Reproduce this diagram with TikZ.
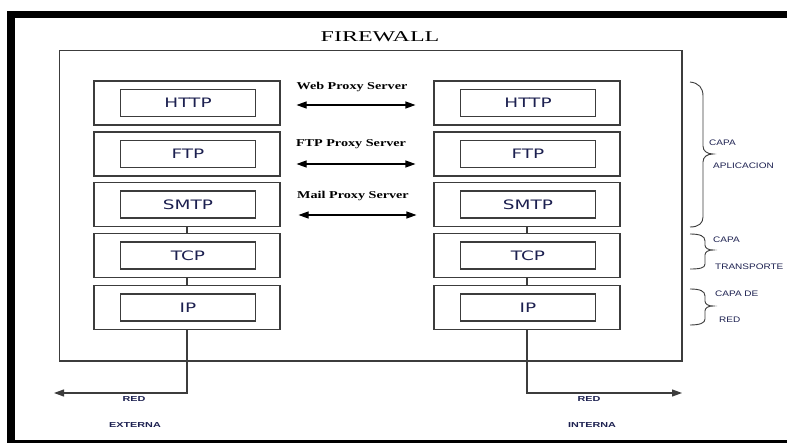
\documentclass[tikz,border=0pt]{standalone}
\usepackage{fontspec}
\usetikzlibrary{arrows.meta,calc}
\newfontfamily\titlefont[FakeStretch=1.6]{Liberation Serif}
\newfontfamily\proxyfont[FakeStretch=1.35]{Liberation Serif}
\newfontfamily\layerfont[FakeStretch=1.42]{DejaVu Sans}
\newfontfamily\sidefont[FakeStretch=1.25]{Liberation Sans}
\newfontfamily\netfont[FakeStretch=1.5]{Liberation Sans}
\definecolor{ink}{RGB}{28,32,80}
\definecolor{edge}{RGB}{60,60,60}
\begin{document}
\begin{tikzpicture}[x=1pt,y=-1pt,
  outerbox/.style={draw=edge,line width=1.1pt,minimum width=186pt,minimum height=44pt,inner sep=0pt},
  layerbox/.style={draw=edge,line width=1.1pt,minimum width=135pt,minimum height=27pt,inner sep=0pt,
    text=ink,font=\layerfont\fontsize{13}{13}\selectfont},
  link/.style={draw=edge,line width=1.1pt},
  proxyarrow/.style={line width=1.1pt,{Triangle[length=10pt,width=7pt]}-{Triangle[length=10pt,width=7pt]}},
  netarrow/.style={line width=1.1pt,-{Triangle[length=10pt,width=7pt]}},
  proxylabel/.style={inner sep=0pt,font=\proxyfont\bfseries\fontsize{10.5}{10.5}\selectfont},
  sidelabel/.style={inner sep=0pt,anchor=west,text=ink,font=\sidefont\fontsize{8}{8}\selectfont},
  netlabel/.style={inner sep=0pt,text=ink,font=\netfont\bfseries\fontsize{7.2}{7.2}\selectfont},
  bracepath/.style={draw=edge,line width=0.9pt}]
\useasboundingbox (0,0) rectangle (787,443);
\fill[white] (0,0) rectangle (787,443);

% heavy page frame (open on the right)
\fill[black] (7,11) rectangle (787,18);
\fill[black] (7,11) rectangle (15,443);
\fill[black] (7,440) rectangle (787,443);

% firewall enclosure
\node[inner sep=0pt,font=\titlefont\fontsize{15}{15}\selectfont] (title) at (380,37) {FIREWALL};
\draw[edge,line width=1.1pt] (59.5,50.5) rectangle (682,361);

% protocol stacks: external side (L) and internal side (R)
\foreach \n/\y/\t in {1/103/HTTP,2/154/FTP,3/204.5/SMTP,4/255.5/TCP,5/307.5/IP}{
  \node[outerbox] (L\n) at (187,\y) {};
  \node[layerbox] (Li\n) at (188,\y) {\t};
  \node[outerbox] (R\n) at (527,\y) {};
  \node[layerbox] (Ri\n) at (528,\y) {\t};
}

% links between transport and network layers
\draw[link] (L3.south) -- (L4.north);
\draw[link] (L4.south) -- (L5.north);
\draw[link] (R3.south) -- (R4.north);
\draw[link] (R4.south) -- (R5.north);

% proxy servers between the stacks
\node[proxylabel] (web) at (352,87) {Web Proxy Server};
\node[proxylabel] (ftp) at (351,144) {FTP Proxy Server};
\node[proxylabel] (mail) at (353,196) {Mail Proxy Server};
\draw[proxyarrow] ([xshift=16pt,yshift=-2pt]L1.east) -- ([xshift=-18pt,yshift=-2pt]R1.west);
\draw[proxyarrow] ([xshift=16pt,yshift=-10pt]L2.east) -- ([xshift=-18pt,yshift=-10pt]R2.west);
\draw[proxyarrow] ([xshift=18pt,yshift=-10.5pt]L3.east) -- ([xshift=-17pt,yshift=-10.5pt]R3.west);

% network exits
\coordinate (ext) at (54,393);
\coordinate (int) at (682,393);
\draw[netarrow,edge] (L5.south) |- (ext);
\draw[netarrow,edge] (R5.south) |- (int);
\node[netlabel] (redext) at (134,399) {RED};
\node[netlabel] (externa) at (135,425) {EXTERNA};
\node[netlabel] (redint) at (589,399) {RED};
\node[netlabel] (interna) at (592,425) {INTERNA};

% layer braces
\draw[bracepath] (690,82) .. controls (699,83) and (703,88) .. (703,96) -- (703,146)
  .. controls (703,151) and (707,154) .. (713,154)
  .. controls (707,154) and (703,157) .. (703,162) -- (703,217)
  .. controls (703,223) and (699,227) .. (690,227);
\draw[bracepath] (690,234) .. controls (700,234) and (705,236) .. (705,241) -- (705,245)
  .. controls (705,248) and (708,250) .. (713,250)
  .. controls (708,250) and (705,252) .. (705,255) -- (705,264)
  .. controls (705,268) and (700,269) .. (690,269);
\draw[bracepath] (690,289) .. controls (700,289) and (705,291) .. (705,296) -- (705,301)
  .. controls (705,304) and (708,306) .. (713,306)
  .. controls (708,306) and (705,308) .. (705,311) -- (705,319)
  .. controls (705,323) and (700,325) .. (690,325);

\node[sidelabel] (capa1) at (709,143) {CAPA};
\node[sidelabel] (apl) at (713,166) {APLICACION};
\node[sidelabel] (capa2) at (713,240) {CAPA};
\node[sidelabel] (trans) at (715,267) {TRANSPORTE};
\node[sidelabel] (capa3) at (715,294) {CAPA DE};
\node[sidelabel] (red) at (719,320) {RED};
\end{tikzpicture}
\end{document}
